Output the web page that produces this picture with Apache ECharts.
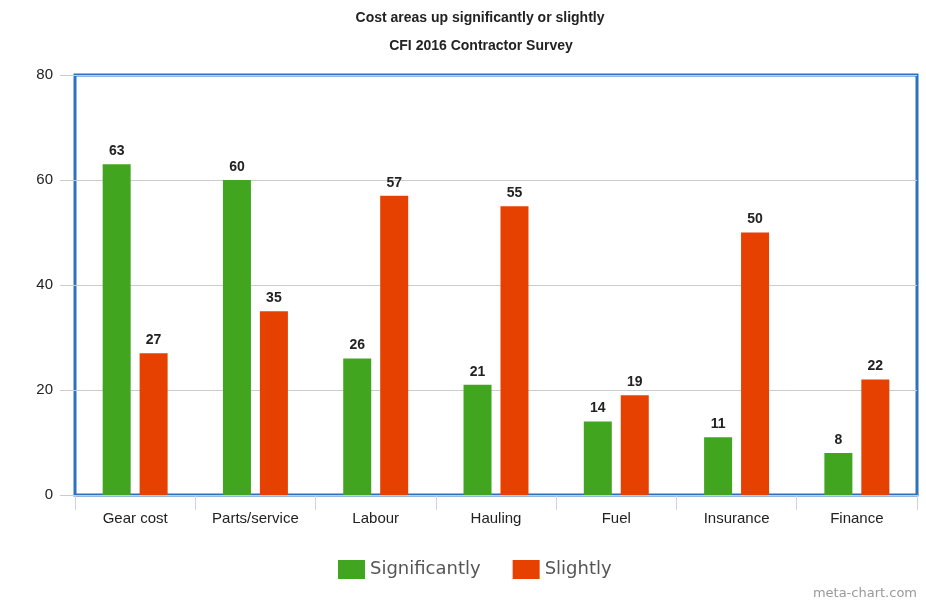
<!DOCTYPE html>
<html>
<head>
<meta charset="utf-8">
<script src="https://cdn.jsdelivr.net/npm/echarts@6/dist/echarts.min.js"></script>
<style>
  html, body { margin: 0; padding: 0; background: #fff; }
  #chart { width: 926px; height: 601px; }
</style>
</head>
<body>
<div id="chart"></div>
<script>
// data
var categories = ['Gear cost', 'Parts/service', 'Labour', 'Hauling', 'Fuel', 'Insurance', 'Finance'];
var significantly = [63, 60, 26, 21, 14, 11, 8];
var slightly = [27, 35, 57, 55, 19, 50, 22];
var yTicks = [0, 20, 40, 60, 80];

var chart = echarts.init(document.getElementById('chart'));

var labelStyle = {
  show: true,
  position: 'top',
  distance: 6,
  color: '#222',
  fontWeight: 'bold',
  fontSize: 14,
  fontFamily: 'Liberation Sans, Arial, sans-serif'
};

chart.setOption({
  animation: false,
  textStyle: { fontFamily: 'Liberation Sans, Arial, sans-serif' },
  title: [
    { text: 'Cost areas up significantly or slightly', left: 475, textAlign: 'center', top: 6,
      textStyle: { fontSize: 14, fontWeight: 'bold', color: '#222' } },
    { text: 'CFI 2016 Contractor Survey', left: 476, textAlign: 'center', top: 34,
      textStyle: { fontSize: 14, fontWeight: 'bold', color: '#222' } },
    { text: 'meta-chart.com', right: 4, top: 582,
      textStyle: { fontSize: 13, fontWeight: 'normal', color: '#999',
                   fontFamily: 'DejaVu Sans, sans-serif' } }
  ],
  legend: {
    bottom: 17,
    left: 333,
    icon: 'rect',
    itemWidth: 27,
    itemHeight: 19,
    itemGap: 32,
    textStyle: { fontSize: 18, color: '#555', fontFamily: 'DejaVu Sans, sans-serif' },
    data: ['Significantly', 'Slightly']
  },
  grid: {
    left: 75, right: 9, top: 75, bottom: 106,
    show: true,
    borderColor: '#2f70c0',
    borderWidth: 3,
    backgroundColor: '#fff'
  },
  xAxis: {
    type: 'category',
    data: categories,
    axisLine: { show: false },
    axisTick: { show: true, length: 15, lineStyle: { color: '#c9d3e3' } },
    axisLabel: { color: '#222', fontSize: 15, margin: 16 }
  },
  yAxis: {
    type: 'value',
    min: yTicks[0],
    max: yTicks[yTicks.length - 1],
    interval: 20,
    axisLine: { show: false },
    axisTick: { show: true, length: 15, lineStyle: { color: '#ccc' } },
    axisLabel: { color: '#222', fontSize: 15, margin: 22 },
    splitLine: { lineStyle: { color: '#ccc', width: 1 } }
  },
  series: [
    {
      name: 'Significantly',
      type: 'bar',
      data: significantly,
      barWidth: 28,
      barGap: '32%',
      itemStyle: { color: '#42a51f' },
      label: labelStyle
    },
    {
      name: 'Slightly',
      type: 'bar',
      data: slightly,
      barWidth: 28,
      itemStyle: { color: '#e64100' },
      label: labelStyle
    }
  ]
});
</script>
</body>
</html>
